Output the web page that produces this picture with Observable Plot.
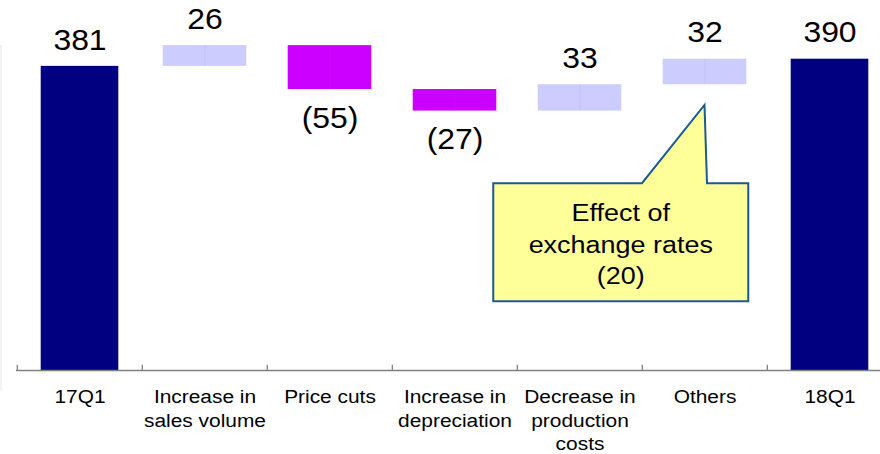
<!DOCTYPE html>
<html>
<head>
<meta charset="utf-8">
<script src="https://cdn.jsdelivr.net/npm/d3@7"></script>
<script src="https://cdn.jsdelivr.net/npm/@observablehq/plot@0.6"></script>
<style>
  html, body { margin: 0; padding: 0; background: #ffffff; }
  #chart { position: relative; width: 880px; height: 454px; overflow: hidden; }
  #chart svg { display: block; }
  .edge { position: absolute; left: 0; top: 45px; width: 2px; height: 345px; background: #f3f3f7; }
</style>
</head>
<body>
<div id="chart"><div class="edge"></div></div>
<script>
// Operating profit bridge, 17Q1 -> 18Q1
const categories = [
  "17Q1",
  "Increase in\nsales volume",
  "Price cuts",
  "Increase in\ndepreciation",
  "Decrease in\nproduction\ncosts",
  "Others",
  "18Q1"
];
const changes = [381, 26, -55, -27, 33, 32, 390];
const isTotal = [true, false, false, false, false, false, true];

// Note attached to the "Others" step
const noteText = "Effect of\nexchange rates\n(20)";
const noteTip = 332;     // value level the pointer reaches
const noteTop = 234;     // value level of the box top
const noteBottom = 86;   // value level of the box bottom

const FONT = "'Liberation Sans', Arial, Helvetica, sans-serif";
const STRETCH = 1.1;

// Running totals for the waterfall
let running = 0;
const rows = categories.map((name, i) => {
  const v = changes[i];
  let start, end;
  if (isTotal[i]) { start = 0; end = v; }
  else { start = running; end = running + v; }
  running = end;
  return {
    name, value: v, total: isTotal[i], start, end,
    top: Math.max(start, end), bottom: Math.min(start, end),
    label: v < 0 ? `(${-v})` : `${v}`
  };
});

const xRange = [16, 893.5];
const bandStep = (xRange[1] - xRange[0]) / categories.length;

// Speech-bubble note drawn from the scales
function note(index, scales) {
  const x = scales.x, y = scales.y, bw = x.bandwidth();
  const xo = x("Others"), xd = x(categories[4]);
  const tipX = xo + bw / 2, tipY = y(noteTip);
  const L = xd - 0.19 * bw, R = xo + 0.85 * bw;
  const T = y(noteTop), B = y(noteBottom);
  const g = d3.create("svg:g");
  g.append("path")
    .attr("d", `M${L},${T}H${xo}L${tipX},${tipY}L${tipX + 2.5},${T}H${R}V${B}H${L}Z`)
    .attr("fill", "#FFFF99")
    .attr("stroke", "#1B5A92")
    .attr("stroke-width", 2);
  const lines = noteText.split("\n");
  const cx = (L + R) / 2, cy = (T + B) / 2 + 2, lh = 31.5;
  g.selectAll("text").data(lines).join("text")
    .attr("transform", (d, i) => `translate(${cx},${cy + (i - (lines.length - 1) / 2) * lh})`)
    .attr("text-anchor", "middle")
    .attr("dy", "0.35em")
    .attr("font-size", 24.5)
    .attr("fill", "#000")
    .text(d => d);
  return g.node();
}

const chart = Plot.plot({
  width: 880,
  height: 454,
  marginTop: 10,
  marginBottom: 84,
  marginLeft: 16,
  marginRight: 0,
  style: { fontFamily: FONT, background: "transparent", overflow: "visible" },
  x: { domain: categories, range: xRange, padding: 0, axis: null },
  y: { domain: [0, 451], axis: null },
  marks: [
    Plot.barY(rows.filter(d => d.total), {
      x: "name", y1: "start", y2: "end", fill: "#000080", insetLeft: 23.7, insetRight: 23.7
    }),
    Plot.barY(rows.filter(d => !d.total && d.value >= 0), {
      x: "name", y1: "start", y2: "end", fill: "#CCCCFF", insetLeft: 20.7, insetRight: 20.7
    }),
    Plot.barY(rows.filter(d => !d.total && d.value < 0), {
      x: "name", y1: "start", y2: "end", fill: "#CC00FF", insetLeft: 20.7, insetRight: 20.7
    }),
    Plot.ruleX(rows.filter(d => !d.total), {
      x: "name", y1: "bottom", y2: "top", stroke: "#777799", strokeOpacity: 0.1
    }),
    // values above gains and totals, in brackets below losses
    Plot.text(rows.filter(d => d.value >= 0), {
      x: "name", y: "top", text: "label", dy: -26, fontSize: 29, fill: "#000"
    }),
    Plot.text(rows.filter(d => d.value < 0), {
      x: "name", y: "bottom", text: "label", dy: 29, fontSize: 29, fill: "#000"
    }),
    note,
    // category axis: baseline, separator ticks and labels
    Plot.ruleX(categories, { x: d => d, y1: 0, y2: 6.5, dx: -bandStep / 2, stroke: "#808080", strokeWidth: 1.3 }),
    Plot.ruleY([0], { stroke: "#808080", strokeWidth: 1.6 }),
    Plot.text(categories, {
      x: d => d, frameAnchor: "bottom", lineAnchor: "top", dy: 16,
      fontSize: 19, lineHeight: 1.24, fill: "#000"
    })
  ]
});

// slightly wide lettering
d3.select(chart).selectAll("text").each(function () {
  const t = this.getAttribute("transform");
  if (t) this.setAttribute("transform", `${t} scale(${STRETCH},1)`);
});

document.getElementById("chart").appendChild(chart);
</script>
</body>
</html>
